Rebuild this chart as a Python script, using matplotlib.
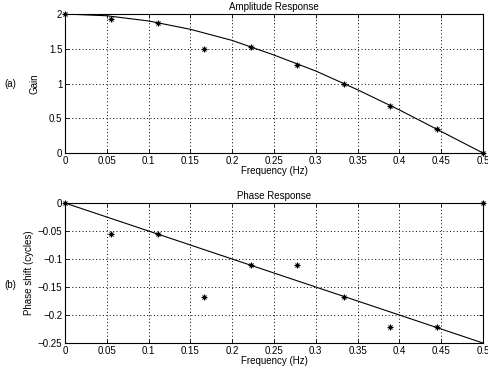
import matplotlib
matplotlib.use("Agg")
import matplotlib.pyplot as plt

plt.rcParams['font.family'] = ['Liberation Sans', 'DejaVu Sans']

# Data
curve_f = [0, 0.05, 0.1, 0.15, 0.2, 0.25, 0.3, 0.35, 0.4, 0.45, 0.5]
curve_gain = [2.0, 1.975, 1.90, 1.78, 1.62, 1.41, 1.18, 0.91, 0.62, 0.31, 0.0]
phase_line_f = [0, 0.5]
phase_line = [0, -0.25]
sample_f = [0, 0.0556, 0.1111, 0.1667, 0.2222, 0.2778, 0.3333, 0.3889, 0.4444, 0.5]
sample_gain = [2.0, 1.93, 1.87, 1.5, 1.53, 1.27, 1.0, 0.68, 0.35, 0.0]
sample_phase = [0, -0.056, -0.056, -0.167, -0.111, -0.111, -0.167, -0.222, -0.222, 0.0]
xticks = [0, 0.05, 0.1, 0.15, 0.2, 0.25, 0.3, 0.35, 0.4, 0.45, 0.5]
xticklabels = ['0', '0.05', '0.1', '0.15', '0.2', '0.25', '0.3', '0.35', '0.4', '0.45', '0.5']
gain_ticks = [0, 0.5, 1, 1.5, 2]
gain_ticklabels = ['0', '0.5', '1', '1.5', '2']
phase_ticks = [-0.25, -0.2, -0.15, -0.1, -0.05, 0]
phase_ticklabels = ['\u22120.25', '\u22120.2', '\u22120.15', '\u22120.1', '\u22120.05', '0']

fs = 7
fig = plt.figure(figsize=(4.89, 3.68), dpi=100)
ax1 = fig.add_axes([0.1329, 0.5842, 0.8548, 0.3777])
ax2 = fig.add_axes([0.1329, 0.0679, 0.8548, 0.3804])

def style(ax):
    ax.set_xlim(0, 0.5)
    ax.set_xticks(xticks)
    ax.set_xticklabels(xticklabels)
    ax.grid(True, color='black', linestyle=(0, (1, 2.5)), linewidth=0.7)
    ax.tick_params(direction='in', length=3, width=0.6, labelsize=fs, top=True, right=True, pad=2)
    for s in ax.spines.values():
        s.set_linewidth(0.8)
    ax.set_xlabel('Frequency (Hz)', fontsize=fs, labelpad=0)

def stars(ax, x, y):
    ax.plot(x, y, linestyle='none', marker='+', color='black', markersize=5, markeredgewidth=0.8, clip_on=False)
    ax.plot(x, y, linestyle='none', marker='x', color='black', markersize=3.5, markeredgewidth=0.8, clip_on=False)

ax1.plot(curve_f, curve_gain, color='black', linewidth=0.8)
stars(ax1, sample_f, sample_gain)
ax1.set_ylim(0, 2)
ax1.set_yticks(gain_ticks)
ax1.set_yticklabels(gain_ticklabels)
style(ax1)
ax1.set_ylabel('Gain', fontsize=fs, labelpad=7)
ax1.set_title('Amplitude Response', fontsize=fs, pad=3)

ax2.plot(phase_line_f, phase_line, color='black', linewidth=0.8)
stars(ax2, sample_f, sample_phase)
ax2.set_ylim(-0.25, 0)
ax2.set_yticks(phase_ticks)
ax2.set_yticklabels(phase_ticklabels)
style(ax2)
ax2.set_ylabel('Phase shift (cycles)', fontsize=fs, labelpad=3)
ax2.set_title('Phase Response', fontsize=fs, pad=3)

fig.text(0.008, 1 - 84/368, '(a)', fontsize=fs, va='center', ha='left')
fig.text(0.008, 1 - 285/368, '(b)', fontsize=fs, va='center', ha='left')

fig.savefig('out.png', dpi=100)
